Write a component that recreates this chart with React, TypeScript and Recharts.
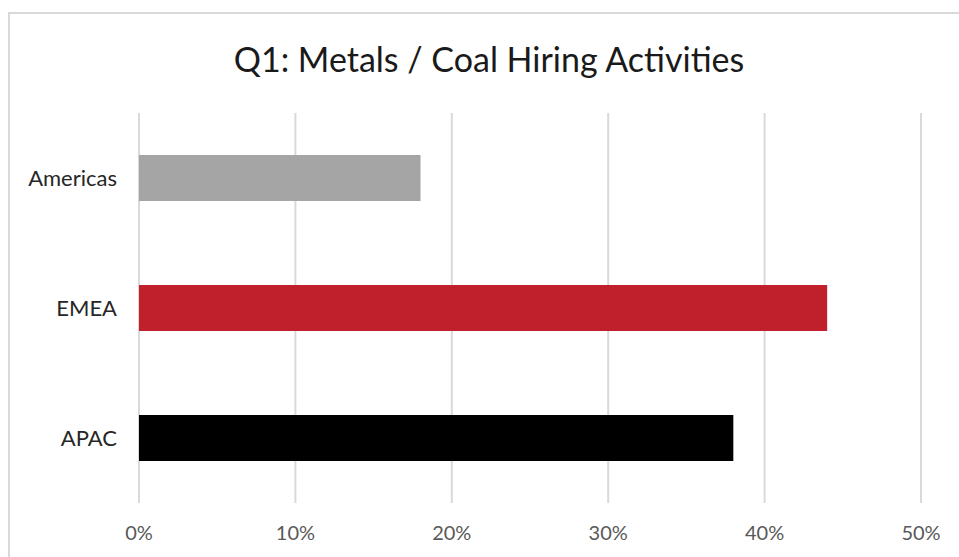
import { Bar, BarChart, CartesianGrid, Cell, XAxis, YAxis } from "recharts"

const regions = ["Americas", "EMEA", "APAC"]
const shares = [0.18, 0.44, 0.38]
const barColors = ["#a5a5a5", "#c0202b", "#000000"]
const xTicks = [0, 0.1, 0.2, 0.3, 0.4, 0.5]

const data = regions.map((region, i) => ({ region, share: shares[i] }))

export default function App() {
  return (
    <div
      style={{
        position: "fixed",
        left: 0,
        top: 0,
        width: 959,
        height: 557,
        overflow: "hidden",
        background: "#fff",
        fontFamily: "Lato, sans-serif",
      }}
    >
      <div
        style={{
          position: "absolute",
          left: 8,
          top: 12,
          width: 990,
          height: 600,
          border: "2px solid #d9d9d9",
          boxSizing: "border-box",
        }}
      />
      <div
        style={{
          position: "absolute",
          left: 0,
          top: 37,
          width: 978,
          textAlign: "center",
          fontSize: 34,
          color: "#1a1a1a",
          lineHeight: "44px",
        }}
      >
        Q1: Metals / Coal Hiring Activities
      </div>
      <div style={{ position: "absolute", left: 0, top: 0 }}>
        <BarChart
          width={959}
          height={557}
          data={data}
          layout="vertical"
          margin={{ top: 113, right: 38, bottom: 14, left: 0 }}
          barCategoryGap={42}
        >
          <CartesianGrid vertical horizontal={false} stroke="#d9d9d9" strokeWidth={2} />
          <XAxis
            type="number"
            domain={[0, 0.5]}
            ticks={xTicks}
            tickFormatter={(v: number) => `${Math.round(v * 100)}%`}
            axisLine={false}
            tickLine={false}
            tickSize={0}
            tickMargin={23}
            height={40}
            tick={{ fill: "#595959", fontSize: 20, fontFamily: "Lato, sans-serif" }}
          />
          <YAxis
            type="category"
            dataKey="region"
            width={139}
            axisLine={false}
            tickLine={false}
            tickSize={0}
            tickMargin={22}
            tick={{ fill: "#262626", fontSize: 22, fontFamily: "Lato, sans-serif" }}
          />
          <Bar dataKey="share" isAnimationActive={false}>
            {data.map((d, i) => (
              <Cell key={d.region} fill={barColors[i]} />
            ))}
          </Bar>
        </BarChart>
      </div>
    </div>
  )
}
